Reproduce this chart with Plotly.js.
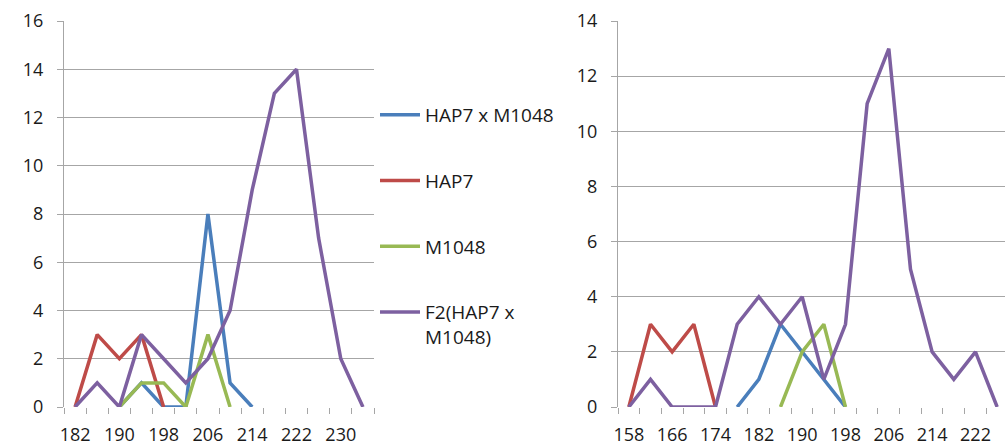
<!DOCTYPE html>
<html>
<head>
<meta charset="utf-8">
<script src="https://cdn.plot.ly/plotly-3.0.1.min.js"></script>
<style>html,body{margin:0;padding:0;background:#fff;}#chart{width:1005px;height:446px;}</style>
</head>
<body>
<div id="chart"></div>
<script>
// Left panel
const leftX = [182,186,190,194,198,202,206,210,214,218,222,226,230,234];
const leftHybrid = [null,null,0,1,0,0,8,1,0,null,null,null,null,null];
const leftHAP7   = [0,3,2,3,0,null,null,null,null,null,null,null,null,null];
const leftM1048  = [null,null,0,1,1,0,3,0,null,null,null,null,null,null];
const leftF2     = [0,1,0,3,2,1,2,4,9,13,14,7,2,0];
const leftTicks  = [182,190,198,206,214,222,230];

// Right panel
const rightX = [158,162,166,170,174,178,182,186,190,194,198,202,206,210,214,218,222,226];
const rightHybrid = [null,null,null,null,null,0,1,3,2,1,0,null,null,null,null,null,null,null];
const rightHAP7   = [0,3,2,3,0,null,null,null,null,null,null,null,null,null,null,null,null,null];
const rightM1048  = [null,null,null,null,null,null,null,0,2,3,0,null,null,null,null,null,null,null];
const rightF2     = [0,1,0,0,0,3,4,3,4,1,3,11,13,5,2,1,2,0];
const rightTicks  = [158,166,174,182,190,198,206,214,222];

const seriesNames = ['HAP7 x M1048','HAP7','M1048','F2(HAP7 x<br>M1048)'];
const colors = ['#4A7EBB','#BE4B48','#98B954','#7D60A0'];

const leftSeries = [leftHybrid, leftHAP7, leftM1048, leftF2];
const rightSeries = [rightHybrid, rightHAP7, rightM1048, rightF2];

const traces = [];
leftSeries.forEach((ys, i) => {
  traces.push({x: leftX, y: ys, type: 'scatter', mode: 'lines', name: seriesNames[i],
    legendgroup: 'g' + i, line: {color: colors[i], width: 3.5}, connectgaps: false,
    xaxis: 'x', yaxis: 'y', hoverinfo: 'skip'});
});
rightSeries.forEach((ys, i) => {
  traces.push({x: rightX, y: ys, type: 'scatter', mode: 'lines', name: seriesNames[i],
    legendgroup: 'g' + i, showlegend: false, line: {color: colors[i], width: 3.5}, connectgaps: false,
    xaxis: 'x2', yaxis: 'y2', hoverinfo: 'skip'});
});

const W = 1005, H = 446;
const gridC = '#A6A6A6';
const font = {family: 'Open Sans, Noto Sans, sans-serif', size: 18, color: '#1a1a1a'};
const yDom = [(H - 407) / H, (H - 21) / H];

function xAxis(domain, range, ticks, tick0) {
  return {
    domain: domain, range: range, tickvals: ticks, ticktext: ticks.map(String),
    showgrid: false, zeroline: false, showline: false,
    ticks: 'outside', ticklen: 6, tickcolor: 'rgba(0,0,0,0)', ticklabelstandoff: 5,
    minor: {ticks: 'outside', ticklen: 6, tickcolor: gridC, tick0: tick0, dtick: 4, showgrid: false},
    tickfont: font, fixedrange: true
  };
}
function yAxis(domain, max, anchor) {
  return {
    domain: domain, range: [0, max], dtick: 2, tick0: 0, anchor: anchor,
    showgrid: true, gridcolor: gridC, gridwidth: 1, zeroline: false,
    showline: true, linecolor: gridC, linewidth: 1,
    ticks: 'outside', ticklen: 6, tickcolor: gridC, ticklabelstandoff: 10,
    tickfont: font, fixedrange: true
  };
}

const layout = {
  width: W, height: H,
  margin: {l: 0, r: 0, t: 0, b: 0, pad: 0},
  paper_bgcolor: '#FFFFFF', plot_bgcolor: '#FFFFFF',
  font: font,
  showlegend: true,
  legend: {
    x: 375 / W, y: (H - 96) / H, xanchor: 'left', yanchor: 'top',
    font: {family: font.family, size: 19, color: '#1a1a1a'},
    tracegroupgap: 38, valign: 'top', itemwidth: 40,
    bgcolor: 'rgba(0,0,0,0)', traceorder: 'grouped'
  },
  xaxis: Object.assign(xAxis([64 / W, 374 / W], [180, 236], leftTicks, 180), {anchor: 'y'}),
  yaxis: yAxis(yDom, 16, 'x'),
  xaxis2: Object.assign(xAxis([618 / W, 1], [156, 227.45], rightTicks, 156), {anchor: 'y2'}),
  yaxis2: yAxis(yDom, 14, 'x2')
};

Plotly.newPlot('chart', traces, layout, {displayModeBar: false, staticPlot: true});
</script>
</body>
</html>
